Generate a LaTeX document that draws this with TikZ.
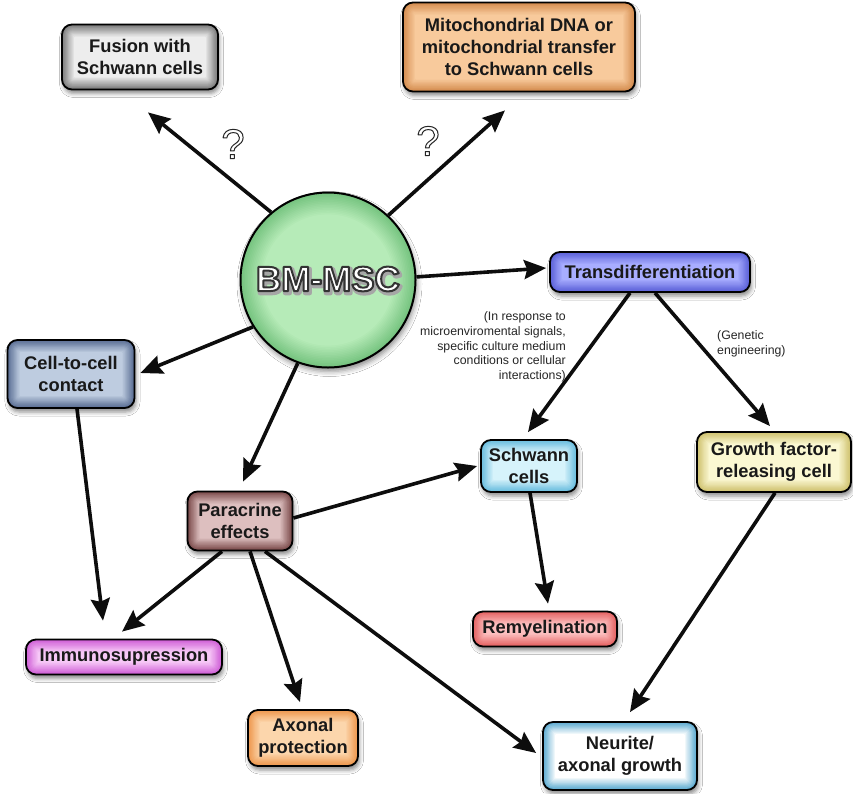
\documentclass[tikz,border=0pt]{standalone}
\usepackage{fontspec}
\setmainfont{Liberation Sans}
\usetikzlibrary{arrows.meta,calc,shadows.blur,backgrounds}
\definecolor{fusionI}{HTML}{EDEDED}\definecolor{fusionO}{HTML}{7A7A7A}
\definecolor{mitoI}{HTML}{F8CA9C}\definecolor{mitoO}{HTML}{D48C4E}
\definecolor{tdI}{HTML}{A8ADFF}\definecolor{tdO}{HTML}{5A60D8}
\definecolor{cellI}{HTML}{BECCE0}\definecolor{cellO}{HTML}{5A6E94}
\definecolor{paraI}{HTML}{DDBFBF}\definecolor{paraO}{HTML}{7A4A4A}
\definecolor{schI}{HTML}{D6F3FB}\definecolor{schO}{HTML}{68BCDE}
\definecolor{grI}{HTML}{FBF8D2}\definecolor{grO}{HTML}{CFC26E}
\definecolor{immI}{HTML}{F7C8F7}\definecolor{immO}{HTML}{CF5ED6}
\definecolor{axI}{HTML}{FCD6AC}\definecolor{axO}{HTML}{EE984E}
\definecolor{remI}{HTML}{FCBEBE}\definecolor{remO}{HTML}{E46262}
\definecolor{neuI}{HTML}{FFFFFF}\definecolor{neuO}{HTML}{5AAAD0}
\definecolor{bmI}{HTML}{B6EBB8}\definecolor{bmO}{HTML}{74C27E}
% outlined text: fill colour #1 (via xcolor), stroke grey level #2, stroke width #3 (bp)
\newcommand\outlined[4]{%
  \textcolor{#1}{\special{pdf:literal direct 2 Tr 1 j #3 w #2 G}#4\special{pdf:literal direct 0 Tr 0 j 0.3985 w}}}
\newcommand\shadowed[1]{%
  \leavevmode\rlap{\kern1.5pt\raisebox{-2pt}{\outlined{black!35}{0.65}{4.5}{#1}}}%
  \outlined{white}{0.2}{2}{#1}}
\tikzset{
  glowbox/.style n args={2}{
    draw=black, line width=1.8pt, rounded corners=10pt, fill=#2,
    blur shadow={shadow xshift=1.5pt, shadow yshift=-4pt, shadow blur radius=4pt, shadow opacity=45},
    align=center, font=\fontsize{18.3}{22}\selectfont\bfseries, text=black!90,
    inner sep=0pt,
    path picture={
      \foreach \k in {1,...,10}{
        \pgfmathtruncatemacro\pct{\k*10}
        \pgfmathsetmacro\rr{max(10-\k*1.1,1)}
        \fill[#1!\pct!#2, rounded corners=\rr pt]
          ([shift={(\k*1.2pt,-\k*1.2pt)}]path picture bounding box.north west)
          rectangle ([shift={(-\k*1.2pt,\k*1.2pt)}]path picture bounding box.south east);
      }
    }
  },
  arr/.style={line width=3.6pt, draw=black!95, -{Stealth[length=22pt,width=19pt,inset=3pt]}},
  note/.style={font=\fontsize{12.3}{14.6}\selectfont, text=black!85, inner sep=0pt},
  qmark/.style={font=\fontsize{42}{42}\selectfont, inner sep=0pt}
}
\begin{document}
\begin{tikzpicture}[x=1pt,y=-1pt]
\useasboundingbox (0,0) rectangle (853,793);
% nodes
\node[glowbox={fusionI}{fusionO}, minimum width=156pt, minimum height=65pt] (fusion) at (140,57) {Fusion with\\Schwann cells};
\node[glowbox={mitoI}{mitoO}, minimum width=232pt, minimum height=89pt] (mito) at (519,47) {Mitochondrial DNA or\\mitochondrial transfer\\to Schwann cells};
\node[glowbox={tdI}{tdO}, minimum width=200pt, minimum height=40pt] (td) at (650,272) {Transdifferentiation};
\node[glowbox={cellI}{cellO}, minimum width=127pt, minimum height=68pt] (cell) at (71,374) {Cell-to-cell\\contact};
\node[glowbox={paraI}{paraO}, minimum width=105pt, minimum height=59pt] (para) at (240,521) {Paracrine\\effects};
\node[glowbox={schI}{schO}, minimum width=96pt, minimum height=52pt] (sch) at (529,466) {Schwann\\cells};
\node[glowbox={grI}{grO}, minimum width=154pt, minimum height=60pt] (gr) at (774,462) {Growth factor-\\releasing cell};
\node[glowbox={immI}{immO}, minimum width=196pt, minimum height=35pt] (imm) at (124,657) {Immunosupression};
\node[glowbox={axI}{axO}, minimum width=110pt, minimum height=56pt] (ax) at (303,738) {Axonal\\protection};
\node[glowbox={remI}{remO}, minimum width=144pt, minimum height=35pt] (rem) at (545,629) {Remyelination};
\node[glowbox={neuI}{neuO}, minimum width=154pt, minimum height=68pt] (neu) at (620,756) {Neurite/\\axonal growth};
\node[circle, draw=black, line width=2pt, minimum size=175pt, inner sep=0pt, fill=bmO,
      blur shadow={shadow xshift=1.5pt, shadow yshift=-4pt, shadow blur radius=5pt, shadow opacity=45},
      path picture={
        \foreach \k in {1,...,14}{
          \pgfmathtruncatemacro\pct{\k*100/14}
          \fill[bmI!\pct!bmO] (path picture bounding box.center) circle[radius={88-\k*1.6}];
        }
      },
      font=\fontsize{35}{40}\selectfont\bfseries] (bm) at (328,280) {\shadowed{BM-MSC}};
\node[qmark] (q1) at (233,144) {\outlined{white}{0.15}{1}{?}};
\node[qmark] (q2) at (428,141) {\outlined{white}{0.15}{1}{?}};
\node[note, align=right, anchor=east] (resp) at (566,347) {(In response to \\microenviromental signals,\\specific culture medium\\conditions or cellular\\interactions)};
\node[note, align=left, anchor=west] (gen) at (717,344) {(Genetic\\engineering)};
% connectors
\begin{scope}[on background layer]
\fill[white] (0,0) rectangle (853,793);
\draw[arr] (bm.130) -- ($(fusion.south)+(8,22)$);
\draw[arr] (bm.47) -- ($(mito.south)+(-14,18)$);
\draw[arr] (bm.2) -- ($(td.west)+(-3,-4)$);
\draw[arr] (bm.212) -- ($(cell.east)+(5,-1)$);
\draw[arr] (bm.250) -- ($(para.north)+(3,-9)$);
\draw[arr] ($(cell.south)+(6,0)$) -- ($(imm.north)+(-21,-18)$);
\draw[arr] ($(para.south)+(-18,0)$) -- ($(imm.north)+(-2,-7)$);
\draw[arr] ($(para.south)+(10,0)$) -- ($(ax.north)+(-3,-7)$);
\draw[arr] ($(para.south)+(25,0)$) -- ($(neu.west)+(-6,-3)$);
\draw[arr] ($(para.east)+(0,-3)$) -- ($(sch.west)+(-3,0)$);
\draw[arr] ($(td.south)+(-20,0)$) -- ($(sch.north)+(-1,-7)$);
\draw[arr] ($(td.south)+(5,0)$) -- ($(gr.north)+(-4,-5)$);
\draw[arr] ($(sch.south)+(1,0)$) -- ($(rem.north)+(3,-7)$);
\draw[arr] ($(gr.south)+(1,0)$) -- ($(neu.north)+(10,-9)$);
\end{scope}
\end{tikzpicture}
\end{document}
